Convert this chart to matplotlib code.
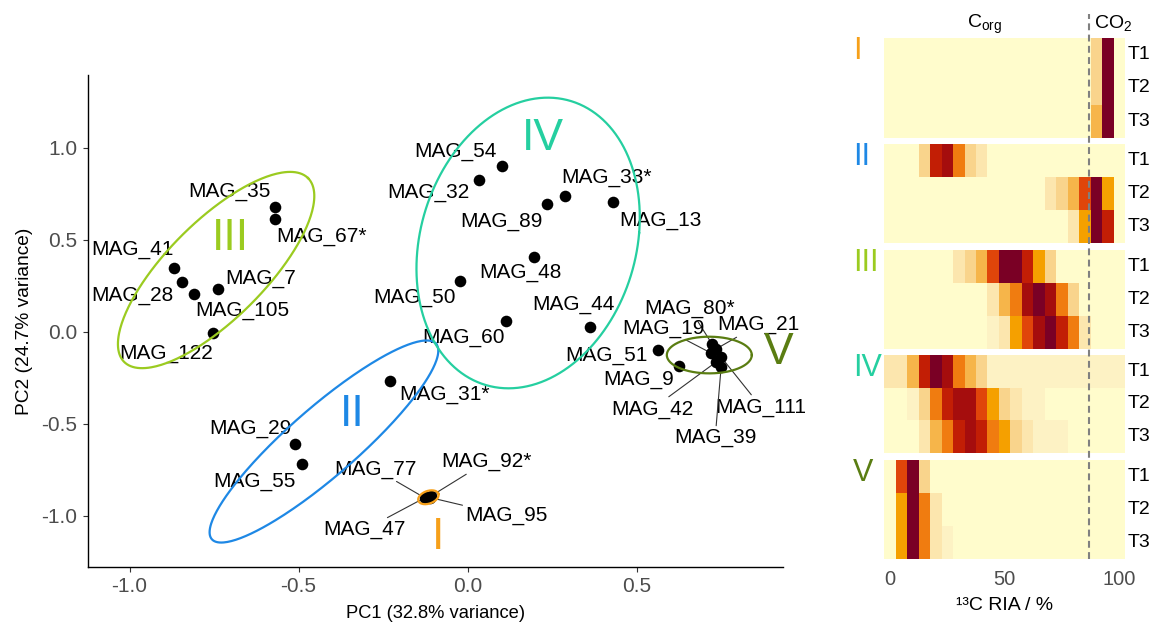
import numpy as np
import matplotlib
matplotlib.use("Agg")
import matplotlib.pyplot as plt
from matplotlib.colors import ListedColormap, BoundaryNorm

plt.rcParams['font.family'] = ['Liberation Sans', 'DejaVu Sans']
plt.rcParams['mathtext.fontset'] = 'custom'
plt.rcParams['mathtext.rm'] = 'Liberation Sans'
plt.rcParams['axes.unicode_minus'] = False

# ---- PCA scores of the MAGs ----
mag_names = ['MAG_35', 'MAG_67*', 'MAG_41', 'MAG_28', 'MAG_105', 'MAG_7', 'MAG_122',
             'MAG_54', 'MAG_32', 'MAG_89', 'MAG_33*', 'MAG_13', 'MAG_48', 'MAG_50', 'MAG_60', 'MAG_44',
             'MAG_31*', 'MAG_29', 'MAG_55',
             'MAG_77', 'MAG_92*', 'MAG_95', 'MAG_47',
             'MAG_51', 'MAG_9', 'MAG_80*', 'MAG_21', 'MAG_19', 'MAG_111', 'MAG_42', 'MAG_39']
pc1 = [-0.570, -0.570, -0.868, -0.845, -0.809, -0.739, -0.754,
       0.101, 0.035, 0.236, 0.288, 0.431, 0.195, -0.022, 0.113, 0.362,
       -0.229, -0.510, -0.489,
       -0.125, -0.108, -0.110, -0.122,
       0.562, 0.626, 0.723, 0.735, 0.720, 0.750, 0.735, 0.750]
pc2 = [0.679, 0.612, 0.345, 0.268, 0.203, 0.230, -0.009,
       0.901, 0.824, 0.694, 0.738, 0.703, 0.408, 0.276, 0.060, 0.027,
       -0.266, -0.610, -0.721,
       -0.905, -0.893, -0.902, -0.898,
       -0.100, -0.185, -0.067, -0.094, -0.116, -0.138, -0.165, -0.192]

group_names = ['I', 'II', 'III', 'IV', 'V']
group_colors = ['#F6A01A', '#1E88E5', '#9BCB20', '#25CFA0', '#5A7D12']

# ellipse centre and two half-axis vectors (data units)
ell_cx = [-0.116, -0.425, -0.744, 0.179, 0.715]
ell_cy = [-0.900, -0.597, 0.335, 0.482, -0.127]
ell_u = [(0.0296, 0.019), (0.3317, 0.531), (0.272, 0.4995), (0.3284, 0.0543), (0.1257, 0.0)]
ell_v = [(0.0059, -0.0326), (0.0665, -0.140), (0.1019, -0.187), (-0.0355, -0.788), (0.0, 0.0996)]
numeral_x = [-0.088, -0.342, -0.703, 0.223, 0.919]
numeral_y = [-1.116, -0.452, 0.509, 1.051, -0.111]

# label offsets in pixels (layout only)
label_off = {
    'MAG_35': (-45, 15), 'MAG_67*': (47, -17), 'MAG_41': (-42, 19), 'MAG_28': (-50, -13),
    'MAG_105': (48, -16), 'MAG_7': (43, 11), 'MAG_122': (-47, -20),
    'MAG_54': (-46, 14), 'MAG_32': (-51, -12), 'MAG_89': (-46, -18), 'MAG_33*': (42, 18),
    'MAG_13': (47, -18), 'MAG_48': (-13, -16), 'MAG_50': (-46, -17), 'MAG_60': (-42, -17),
    'MAG_44': (-17, 22),
    'MAG_31*': (54, -14), 'MAG_29': (-45, 15), 'MAG_55': (-48, -17),
    'MAG_77': (-50, 29), 'MAG_92*': (55, 34), 'MAG_95': (76, -18), 'MAG_47': (-62, -33),
    'MAG_51': (-51, -5), 'MAG_9': (-41, -14), 'MAG_80*': (-22, 35), 'MAG_21': (42, 24),
    'MAG_19': (-48, 25), 'MAG_111': (40, -50), 'MAG_42': (-64, -47), 'MAG_39': (-6, -71)}
segment_labels = ['MAG_77', 'MAG_92*', 'MAG_95', 'MAG_47', 'MAG_80*', 'MAG_21',
                  'MAG_19', 'MAG_111', 'MAG_42', 'MAG_39']

# ---- 13C RIA distributions (colour level per 5 % bin, 0..100) ----
ria_bins = np.arange(0, 101, 5)
time_points = ['T1', 'T2', 'T3']
heat_I = [[0, 0, 0, 0, 0, 0, 0, 0, 0, 0, 0, 0, 0, 0, 0, 0, 0, 0, 3, 10, 0],
          [0, 0, 0, 0, 0, 0, 0, 0, 0, 0, 0, 0, 0, 0, 0, 0, 0, 0, 3, 10, 0],
          [0, 0, 0, 0, 0, 0, 0, 0, 0, 0, 0, 0, 0, 0, 0, 0, 0, 0, 4, 10, 0]]
heat_II = [[0, 0, 0, 3, 8, 9, 6, 3, 2, 0, 0, 0, 0, 0, 0, 0, 0, 0, 0, 0, 0],
           [0, 0, 0, 0, 0, 0, 0, 0, 0, 0, 0, 0, 0, 0, 2, 3, 4, 7, 10, 5, 0],
           [0, 0, 0, 0, 0, 0, 0, 0, 0, 0, 0, 0, 0, 0, 0, 0, 2, 5, 10, 8, 0]]
heat_III = [[0, 0, 0, 0, 0, 0, 2, 3, 4, 7, 10, 10, 8, 5, 3, 0, 0, 0, 0, 0, 0],
            [0, 0, 0, 0, 0, 0, 0, 0, 0, 2, 4, 6, 9, 10, 9, 6, 3, 0, 0, 0, 0],
            [0, 0, 0, 0, 0, 0, 0, 0, 0, 1, 2, 5, 7, 9, 10, 8, 6, 2, 0, 0, 0]]
heat_IV = [[2, 2, 4, 8, 10, 9, 6, 4, 3, 1, 1, 1, 1, 1, 1, 1, 1, 1, 1, 1, 1],
           [0, 0, 1, 3, 6, 8, 9, 9, 7, 5, 3, 2, 1, 1, 0, 0, 0, 0, 0, 0, 0],
           [0, 0, 0, 2, 4, 6, 8, 9, 8, 6, 5, 3, 2, 1, 1, 1, 0, 0, 0, 0, 0]]
heat_V = [[0, 7, 10, 3, 0, 0, 0, 0, 0, 0, 0, 0, 0, 0, 0, 0, 0, 0, 0, 0, 0],
          [0, 5, 10, 6, 2, 0, 0, 0, 0, 0, 0, 0, 0, 0, 0, 0, 0, 0, 0, 0, 0],
          [0, 5, 10, 6, 2, 1, 0, 0, 0, 0, 0, 0, 0, 0, 0, 0, 0, 0, 0, 0, 0]]
heat_rows = [heat_I, heat_II, heat_III, heat_IV, heat_V]
co2_cut = 87

heat_colors = ['#FFFCCC', '#FDF2C4', '#FCE6AE', '#F9D48C', '#F6B54A', '#F5A000',
               '#F07C10', '#E0450A', '#C21E05', '#A50D0D', '#7A0025']
cmap = ListedColormap(heat_colors)
norm = BoundaryNorm(np.arange(-0.5, 11.5, 1), cmap.N)

W, H = 1157, 633
fig = plt.figure(figsize=(W / 100, H / 100), dpi=100)

def fx(px):
    return px / W

def fy(py):
    return 1 - py / H

# ---------------- PCA panel ----------------
ax = fig.add_axes([fx(88), fy(567), fx(783 - 88), (567 - 75) / H])
ax.set_xlim(-1.123, 0.933)
ax.set_ylim(-1.279, 1.395)
for s in ['top', 'right']:
    ax.spines[s].set_visible(False)
for s in ['left', 'bottom']:
    ax.spines[s].set_linewidth(1.0)
ax.set_xticks([-1.0, -0.5, 0.0, 0.5])
ax.set_yticks([-1.0, -0.5, 0.0, 0.5, 1.0])
ax.set_xticklabels(['-1.0', '-0.5', '0.0', '0.5'])
ax.set_yticklabels(['-1.0', '-0.5', '0.0', '0.5', '1.0'])
ax.tick_params(length=3.5, width=0.8, color='#333333', labelsize=15, labelcolor='#4D4D4D', pad=4)
ax.set_xlabel('PC1 (32.8% variance)', fontsize=13.2, labelpad=6)
ax.set_ylabel('PC2 (24.7% variance)', fontsize=13.8, labelpad=6)

ax.scatter(pc1, pc2, s=70, color='black', zorder=3, linewidths=0)

t = np.linspace(0, 2 * np.pi, 300)
for i, g in enumerate(group_names):
    ex = ell_cx[i] + ell_u[i][0] * np.cos(t) + ell_v[i][0] * np.sin(t)
    ey = ell_cy[i] + ell_u[i][1] * np.cos(t) + ell_v[i][1] * np.sin(t)
    ax.plot(ex, ey, color=group_colors[i], lw=1.6, zorder=4)
    ax.text(numeral_x[i], numeral_y[i], g, color=group_colors[i], fontsize=32,
            ha='center', va='center', zorder=5)

for name, x, y in zip(mag_names, pc1, pc2):
    dx, dy = label_off[name]
    kw = {}
    if name in segment_labels:
        kw['arrowprops'] = dict(arrowstyle='-', color='#333333', lw=0.8, shrinkA=0, shrinkB=0)
    ax.annotate(name, (x, y), xytext=(dx, dy), textcoords='offset pixels',
                ha='center', va='center', fontsize=15, zorder=2, **kw)

# ---------------- RIA heatmap panels ----------------
hx0, hx1 = 884.3, 1125
panel_px = [(38, 138), (144, 243), (250, 349), (355, 453), (460, 559)]
edges = np.append(ria_bins - 2.5, ria_bins[-1] + 2.5)
for i, g in enumerate(group_names):
    top, bot = panel_px[i]
    hax = fig.add_axes([fx(hx0), fy(bot), fx(hx1 - hx0), (bot - top) / H])
    hax.pcolormesh(edges, np.arange(4), np.array(heat_rows[i]), cmap=cmap, norm=norm)
    hax.set_xlim(edges[0], edges[-1])
    hax.set_ylim(3, 0)
    hax.axis('off')
    for r, tp in enumerate(time_points):
        hax.text(1.01, r + 0.5, tp, transform=hax.get_yaxis_transform(),
                 ha='left', va='center', fontsize=14)
    fig.text(fx(853), fy(top - 2), g, color=group_colors[i], fontsize=22,
             ha='left', va='top')

# overlay axis: x ticks, label and the CO2 cut-off line
oax = fig.add_axes([fx(hx0), fy(559), fx(hx1 - hx0), (559 - 14) / H], zorder=10)
oax.patch.set_visible(False)
oax.set_xlim(edges[0], edges[-1])
oax.set_ylim(0, 1)
for s in oax.spines.values():
    s.set_visible(False)
oax.set_yticks([])
oax.set_xticks([0, 50, 100])
oax.tick_params(axis='x', length=0, labelsize=14.5, labelcolor='#4D4D4D', pad=8)
oax.set_xlabel('¹³C RIA / %', fontsize=14, labelpad=6)
oax.axvline(co2_cut, color='#808080', lw=1.5, ls=(0, (3.3, 2.1)))

fig.text(fx(985), fy(24), 'C$_{\\mathrm{org}}$', fontsize=14, ha='center', va='center')
fig.text(fx(1113), fy(24), 'CO$_2$', fontsize=14, ha='center', va='center')

fig.savefig('out.png', dpi=100)
